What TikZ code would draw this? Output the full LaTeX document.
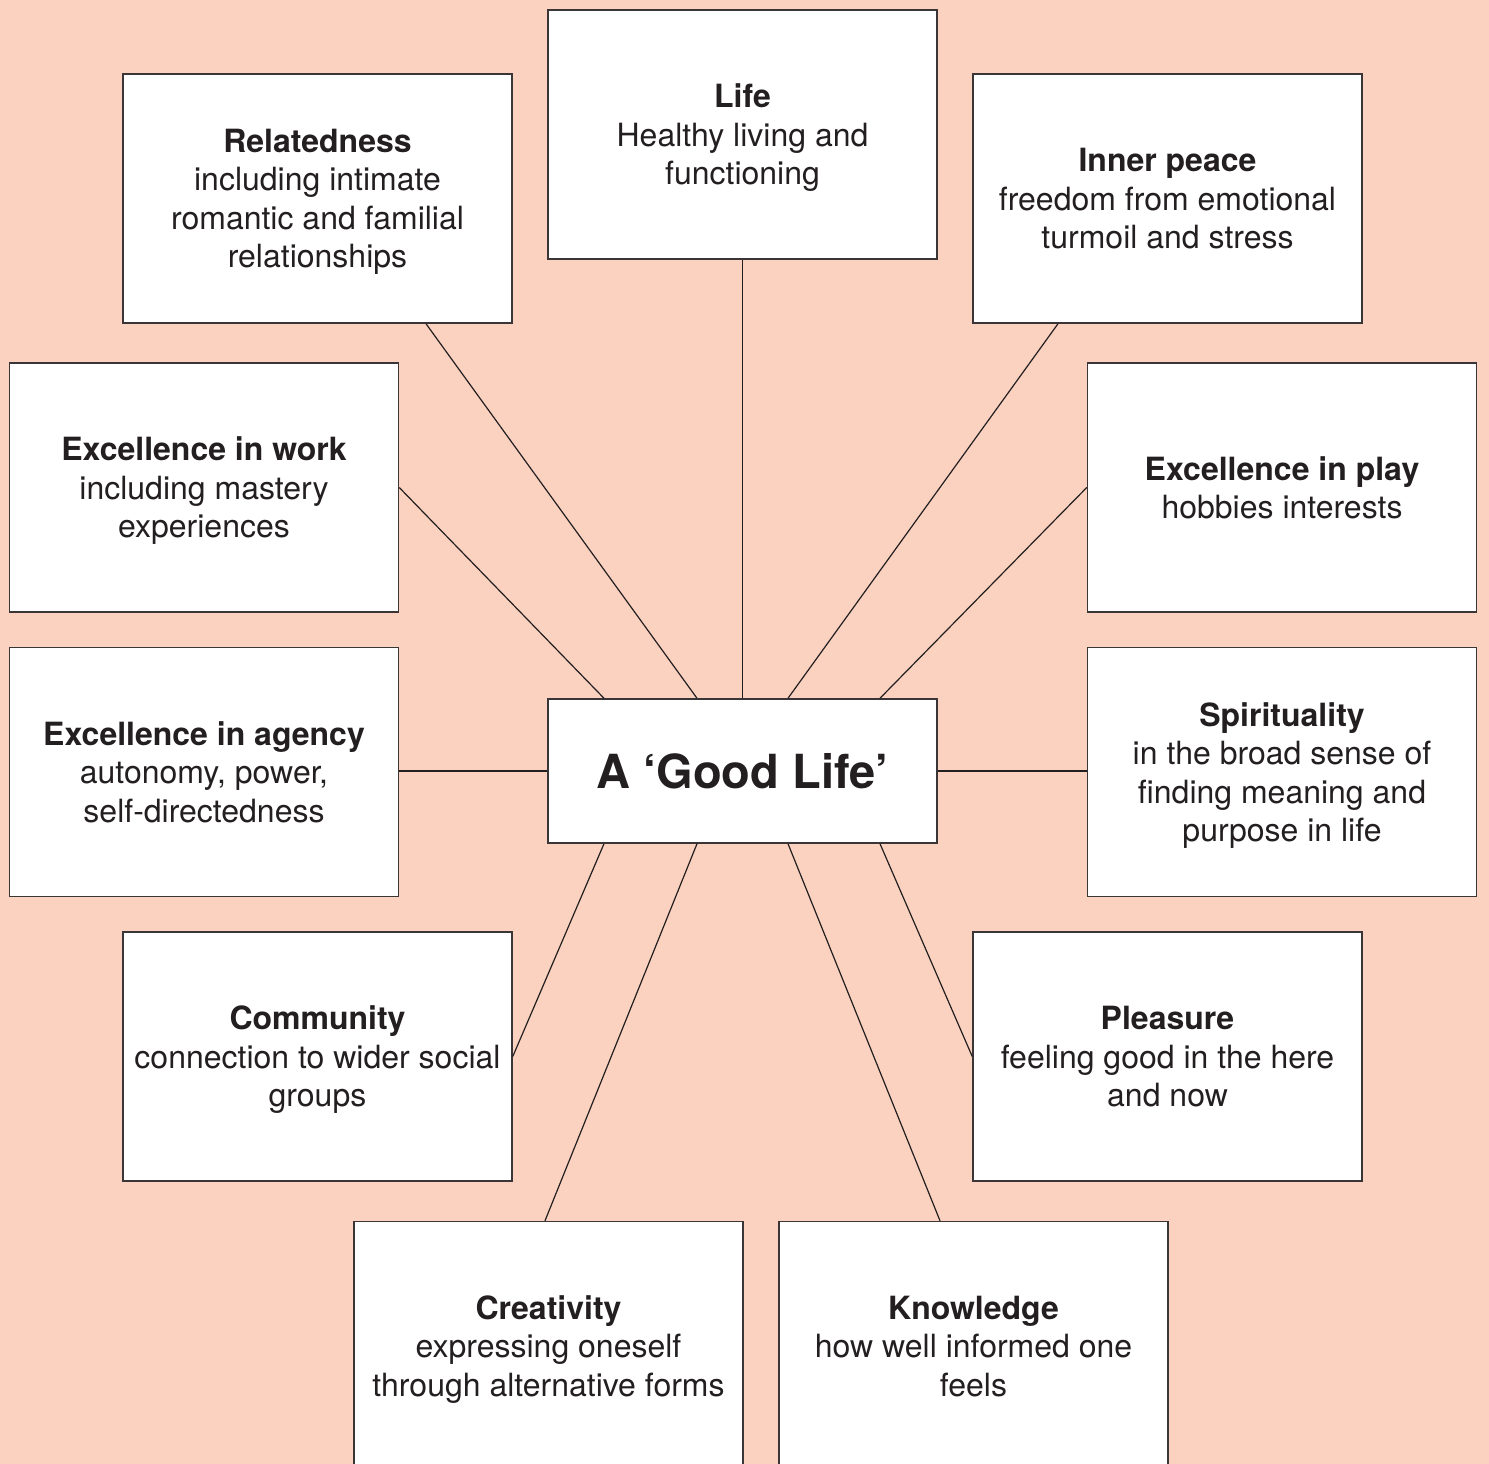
\documentclass[tikz,border=0pt]{standalone}
\usepackage{fontspec}
\setmainfont{TeX Gyre Heros}
\usetikzlibrary{calc}
\definecolor{bg}{HTML}{FBD2C0}
\definecolor{ink}{HTML}{231F20}
\definecolor{frame}{HTML}{3A3637}
\begin{document}
\begin{tikzpicture}[x=1pt,y=-1pt,
  card/.style={draw=frame, line width=1.5pt, fill=white,
    minimum width=389pt, minimum height=249pt, inner sep=0pt,
    text depth=0pt, align=center, text=ink,
    font=\fontsize{32}{38.5}\selectfont},
  hub/.style={card, minimum height=144pt,
    font=\bfseries\fontsize{47}{56}\selectfont},
  spoke/.style={draw=ink, line width=1.2pt}]
% page and background
\fill[bg] (0,0) rectangle (1489,1464);
\useasboundingbox (0,0) rectangle (1489,1464);
\clip (0,0) rectangle (1489,1464);

% centre
\node[hub] (hub) at (742.5,771) {A ‘Good Life’};

% surrounding cards
\node[card] (life)  at (742.5,134.5) {\textbf{Life}\\Healthy living and\\functioning};
\node[card] (rel)   at (317.5,198.5) {\textbf{Relatedness}\\including intimate\\romantic and familial\\relationships};
\node[card] (inner) at (1167.5,198.5) {\textbf{Inner peace}\\freedom from emotional\\turmoil and stress};
\node[card] (work)  at (204,487.5) {\textbf{Excellence in work}\\including mastery\\experiences};
\node[card] (play)  at (1282,487.5) {\textbf{Excellence in play}\\hobbies interests};
\node[card] (agency) at (204,772) {\textbf{Excellence in agency}\\autonomy, power,\\self-directedness};
\node[card] (spirit) at (1282,772) {\textbf{Spirituality}\\in the broad sense of\\finding meaning and\\purpose in life};
\node[card] (comm)  at (317.5,1056.5) {\textbf{Community}\\connection to wider social\\groups};
\node[card] (pleas) at (1167.5,1056.5) {\textbf{Pleasure}\\feeling good in the here\\and now};
\node[card] (crea)  at (548.5,1346) {\textbf{Creativity}\\expressing oneself\\through alternative forms};
\node[card] (know)  at (973.5,1346) {\textbf{Knowledge}\\how well informed one\\feels};

% spokes
\draw[spoke] (life.south) -- (hub.north);
\draw[spoke] ($(rel.south)+(108.5,0)$) -- ($(hub.north)+(-45.5,0)$);
\draw[spoke] ($(inner.south)+(-109.5,0)$) -- ($(hub.north)+(45.5,0)$);
\draw[spoke] (work.east) -- ($(hub.north)+(-138.5,0)$);
\draw[spoke] (play.west) -- ($(hub.north)+(137.5,0)$);
\draw[spoke] (hub.west -| agency.east) -- (hub.west);
\draw[spoke] (hub.east) -- (hub.east -| spirit.west);
\draw[spoke] (comm.east) -- ($(hub.south)+(-138.5,0)$);
\draw[spoke] (pleas.west) -- ($(hub.south)+(137.5,0)$);
\draw[spoke] ($(crea.north)+(-3.5,0)$) -- ($(hub.south)+(-45.5,0)$);
\draw[spoke] ($(know.north)+(-33.5,0)$) -- ($(hub.south)+(45.5,0)$);
\end{tikzpicture}
\end{document}
